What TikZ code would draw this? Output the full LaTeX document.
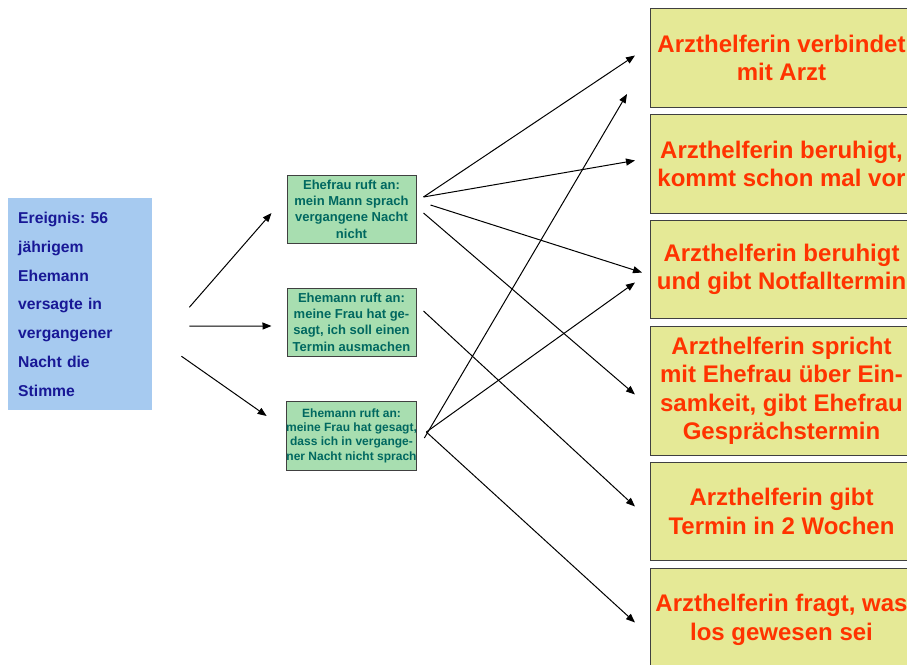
\documentclass[tikz,border=0pt]{standalone}
\usepackage{fontspec}
\setmainfont{Liberation Sans}
\usetikzlibrary{arrows.meta}
\definecolor{eventblue}{RGB}{166,202,240}
\definecolor{eventtext}{RGB}{24,24,150}
\definecolor{callgreen}{RGB}{168,222,176}
\definecolor{calltext}{RGB}{0,104,96}
\definecolor{answeryellow}{RGB}{229,233,150}
\definecolor{answertext}{RGB}{255,51,0}
\definecolor{boxline}{RGB}{64,64,64}
\frenchspacing

\begin{document}
\begin{tikzpicture}[x=1pt,y=-1pt,
  eventbox/.style={fill=eventblue,anchor=north west,inner xsep=10pt,minimum width=144pt,minimum height=212pt,text width=124pt,align=left,text=eventtext,font=\bfseries\fontsize{15.7}{28.8}\selectfont},
  callbox/.style={draw=boxline,line width=1pt,fill=callgreen,minimum width=129pt,inner sep=0pt,align=center,text=calltext,font=\bfseries\fontsize{13}{16.3}\selectfont},
  answerbox/.style={draw=boxline,line width=1pt,fill=answeryellow,anchor=north west,minimum width=262pt,inner sep=0pt,align=center,text=answertext,font=\bfseries\fontsize{24}{28.5}\selectfont},
  arr/.style={-{Triangle[length=9pt,width=7pt]},line width=1pt}]
\useasboundingbox (0,0) rectangle (907,664);

% the event
\node[eventbox] (event) at (8,198) {Ereignis: 56\\j\"ahrigem\\Ehemann\\versagte in\\vergangener\\Nacht die\\Stimme};

% the calls
\node[callbox,minimum height=68pt] (call1) at (351.5,209) {Ehefrau ruft an:\\mein Mann sprach\\vergangene Nacht\\nicht};
\node[callbox,minimum height=68pt] (call2) at (351.5,322) {Ehemann ruft an:\\meine Frau hat ge-\\sagt, ich soll einen\\Termin ausmachen};
\node[callbox,minimum height=69pt,font=\bfseries\fontsize{12}{14.3}\selectfont] (call3) at (351.5,435.5) {Ehemann ruft an:\\meine Frau hat gesagt,\\dass ich in vergange-\\ner Nacht nicht sprach};

% the answers
\node[answerbox,minimum height=99pt] (ans1) at (650,8) {Arzthelferin verbindet\\mit Arzt};
\node[answerbox,minimum height=99pt] (ans2) at (650,114) {Arzthelferin beruhigt,\\kommt schon mal vor};
\node[answerbox,minimum height=98pt] (ans3) at (650,220) {Arzthelferin beruhigt\\und gibt Notfalltermin};
\node[answerbox,minimum height=129pt] (ans4) at (650,326) {Arzthelferin spricht\\mit Ehefrau \"uber Ein-\\samkeit, gibt Ehefrau\\Gespr\"achstermin};
\node[answerbox,minimum height=98pt] (ans5) at (650,462) {Arzthelferin gibt\\Termin in 2 Wochen};
\node[answerbox,minimum height=106pt,text depth=8pt] (ans6) at (650,568) {Arzthelferin fragt, was\\los gewesen sei};

% event to calls
\draw[arr] ([shift={(37,3)}]event.east) -- ([shift={(-15,4)}]call1.west);
\draw[arr] ([shift={(37,22)}]event.east) -- ([shift={(-15,4)}]call2.west);
\draw[arr] ([shift={(29,52)}]event.east) -- ([shift={(-19,-19.5)}]call3.west);

% calls to answers
\draw[arr] ([shift={(7,-12)}]call1.east) -- ([shift={(-15,-2.5)}]ans1.west);
\draw[arr] ([shift={(7,-12)}]call1.east) -- ([shift={(-15,-3.5)}]ans2.west);
\draw[arr] ([shift={(14,-4)}]call1.east) -- ([shift={(-8,3)}]ans3.west);
\draw[arr] ([shift={(7,4)}]call1.east) -- ([shift={(-15,3.5)}]ans4.west);
\draw[arr] ([shift={(7,-11)}]call2.east) -- ([shift={(-15,-5)}]ans5.west);
\draw[arr] ([shift={(7,2.5)}]call3.east) -- ([shift={(-23,-14)}]ans1.south west);
\draw[arr] ([shift={(9,-3.5)}]call3.east) -- ([shift={(-15,13)}]ans3.west);
\draw[arr] ([shift={(9,-3.5)}]call3.east) -- ([shift={(-15,1)}]ans6.west);
\end{tikzpicture}
\end{document}
